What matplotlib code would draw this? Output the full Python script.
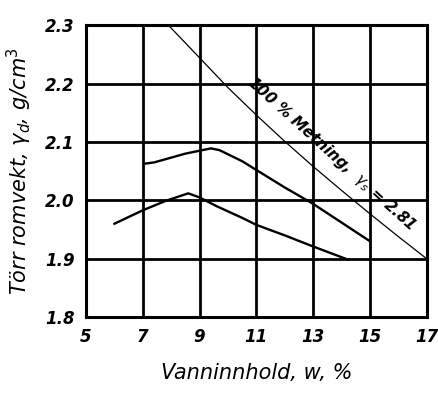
import matplotlib.pyplot as plt

# upper compaction curve
w_upper = [7.1, 7.4, 8.5, 9.4, 9.7, 10.5, 11.0, 12.0, 13.0, 14.0, 15.0]
gd_upper = [2.063, 2.065, 2.080, 2.089, 2.086, 2.067, 2.052, 2.022, 1.994, 1.962, 1.930]

# lower compaction curve
w_lower = [6.0, 7.0, 7.8, 8.6, 9.0, 9.6, 10.5, 11.0, 12.0, 13.0, 14.2]
gd_lower = [1.960, 1.983, 1.999, 2.012, 2.005, 1.990, 1.970, 1.958, 1.940, 1.921, 1.899]

# 100 % saturation line
w_sat = [7.9, 9.0, 10.0, 11.0, 12.0, 13.0, 14.0, 15.0, 16.0, 17.0]
gd_sat = [2.300, 2.244, 2.193, 2.146, 2.101, 2.058, 2.017, 1.977, 1.938, 1.900]

xticks = [5, 7, 9, 11, 13, 15, 17]
yticks = [1.8, 1.9, 2.0, 2.1, 2.2, 2.3]
yticklabels = ['1.8', '1.9', '2.0', '2.1', '2.2', '2.3']

fig = plt.figure(figsize=(4.39, 3.93), dpi=100)
ax = fig.add_axes([0.196, 0.193, 0.776, 0.743])

ax.plot(w_upper, gd_upper, color='black', lw=1.7)
ax.plot(w_lower, gd_lower, color='black', lw=1.7)
ax.plot(w_sat, gd_sat, color='black', lw=0.9)

ax.text(13.65, 2.079, r'100 % Metning,  $\gamma_s$ = 2.81', rotation=-42,
        rotation_mode='anchor', ha='center', va='center', fontsize=11,
        fontstyle='italic', fontweight='bold')

ax.set_xlim(5, 17)
ax.set_ylim(1.8, 2.3)
ax.set_xticks(xticks)
ax.set_yticks(yticks)
ax.set_xticklabels([str(t) for t in xticks])
ax.set_yticklabels(yticklabels)
ax.tick_params(length=0, labelsize=12, pad=8)
for lab in ax.get_xticklabels() + ax.get_yticklabels():
    lab.set_fontstyle('italic')
    lab.set_fontweight('bold')

ax.grid(True, color='black', lw=2.0)
for s in ax.spines.values():
    s.set_linewidth(2.2)

ax.set_xlabel('Vanninnhold, w, %', fontsize=15, fontstyle='italic', labelpad=12)
ax.set_ylabel(r'Törr romvekt, $\gamma_d$, g/cm$^3$', fontsize=15,
              fontstyle='italic', labelpad=8)

fig.savefig('out.png', dpi=100)
